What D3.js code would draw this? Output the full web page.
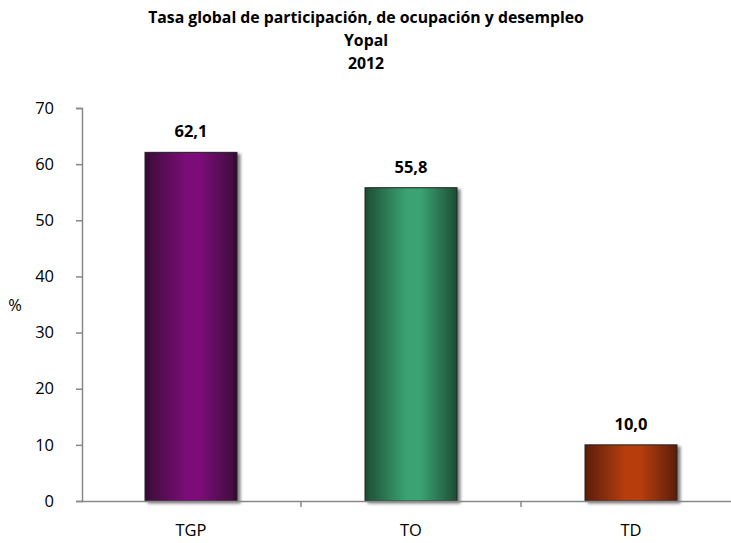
<!DOCTYPE html>
<html><head><meta charset="utf-8">
<script src="https://cdn.jsdelivr.net/npm/d3@7"></script>
<style>body{margin:0;background:#fff}svg{display:block}text{font-family:"Open Sans",sans-serif}</style>
</head><body>
<svg id="c" width="731" height="543"></svg>
<script>
const categories = ["TGP","TO","TD"];
const values = [62.1, 55.8, 10.0];
const yTicks = [0,10,20,30,40,50,60,70];
const titleLines = ["Tasa global de participación, de ocupación y desempleo","Yopal","2012"];
const palette = [
  {edge:"#3a0638", mid:"#7b0d78"},
  {edge:"#1d4d33", mid:"#3aa373"},
  {edge:"#5a1e06", mid:"#b83e0c"}
];

const svg = d3.select("#c");
const x = d3.scaleBand().domain(categories).range([81, 741]).paddingInner(0).paddingOuter(0);
const y = d3.scaleLinear().domain([0,70]).range([501, 108]);
const barW = 92;

const defs = svg.append("defs");
palette.forEach((p,i)=>{
  const g = defs.append("linearGradient").attr("id","g"+i).attr("x1","0").attr("x2","1").attr("y1","0").attr("y2","0");
  g.append("stop").attr("offset","0").attr("stop-color",p.edge);
  g.append("stop").attr("offset","0.45").attr("stop-color",p.mid);
  g.append("stop").attr("offset","0.6").attr("stop-color",p.mid);
  g.append("stop").attr("offset","1").attr("stop-color",p.edge);
});
const f = defs.append("filter").attr("id","sh").attr("x","-20%").attr("y","-20%").attr("width","150%").attr("height","150%");
f.append("feGaussianBlur").attr("in","SourceAlpha").attr("stdDeviation",1.5);
f.append("feOffset").attr("dx",3).attr("dy",2).attr("result","o");
f.append("feComponentTransfer").append("feFuncA").attr("type","linear").attr("slope",0.5);
const m = f.append("feMerge"); m.append("feMergeNode"); m.append("feMergeNode").attr("in","SourceGraphic");

// title
svg.append("g").selectAll("text").data(titleLines).join("text")
  .attr("x", 366).attr("y",(d,i)=>23+i*23).attr("text-anchor","middle")
  .attr("font-weight","bold").attr("font-size",15.8).attr("fill","#000").text(d=>d);

// bars
const bars = svg.append("g");
categories.forEach((c,i)=>{
  const cx = x(c)+x.bandwidth()/2;
  bars.append("rect").attr("x",cx-barW/2).attr("y",y(values[i])).attr("width",barW)
    .attr("height",y(0)-y(values[i])).attr("fill",`url(#g${i})`)
    .attr("stroke","#222").attr("stroke-width",1).attr("filter","url(#sh)");
  svg.append("text").attr("x",cx).attr("y",y(values[i])-15).attr("text-anchor","middle")
    .attr("font-weight","bold").attr("font-size",16.5).text(d3.format(".1f")(values[i]).replace(".",","));
});

// y axis
const ya = svg.append("g").attr("transform","translate(82,0)").call(d3.axisLeft(y).tickValues(yTicks).tickSize(6).tickPadding(22));
ya.select(".domain").attr("stroke","#888").attr("stroke-width",1.5);
ya.selectAll(".tick line").attr("stroke","#888").attr("stroke-width",1.5);
ya.selectAll(".tick text").attr("font-size",16.5).attr("fill","#000").attr("font-family","Open Sans, sans-serif");

// x axis
const xa = svg.append("g").attr("transform","translate(0,501)").call(d3.axisBottom(x).tickSize(0).tickPadding(23));
xa.select(".domain").attr("stroke","#888").attr("stroke-width",1.5);
xa.selectAll(".tick text").attr("font-size",16.5).attr("fill","#000").attr("font-family","Open Sans, sans-serif");
svg.append("g").selectAll("line").data(categories.slice(1)).join("line")
  .attr("x1",d=>x(d)).attr("x2",d=>x(d)).attr("y1",501).attr("y2",507).attr("stroke","#888").attr("stroke-width",1.5);

svg.append("text").attr("x",15).attr("y",311).attr("text-anchor","middle").attr("font-size",16.5).text("%");
</script>
</body></html>
